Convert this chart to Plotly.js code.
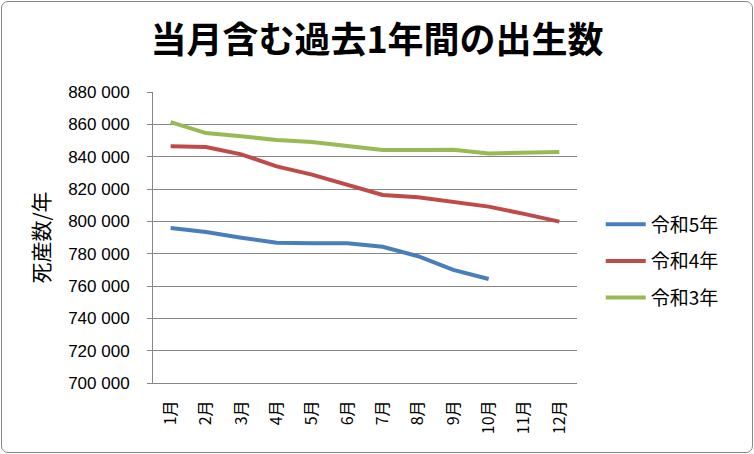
<!DOCTYPE html>
<html>
<head>
<meta charset="utf-8">
<script src="https://cdn.plot.ly/plotly-3.0.1.min.js"></script>
<style>
html,body{margin:0;padding:0;background:#fff;}
#wrap{position:relative;width:754px;height:454px;}
#chart{width:754px;height:454px;}
#frame{position:absolute;left:1px;top:1px;width:750px;height:450px;border:1px solid #878787;border-radius:7px;pointer-events:none;}
</style>
</head>
<body>
<div id="wrap"><div id="chart"></div><div id="frame"></div></div>
<script>
const months = ["1月","2月","3月","4月","5月","6月","7月","8月","9月","10月","11月","12月"];
const seriesNames = ["令和5年","令和4年","令和3年"];
const reiwa5 = [795900,793400,789900,786800,786400,786400,784300,778400,770000,764300];
const reiwa4 = [846400,846000,841400,834000,828900,822300,816300,814900,812000,809100,804600,799800];
const reiwa3 = [861400,854600,852600,850300,849100,846800,844100,844100,844300,842000,842700,842900];
const yTicks = [700000,720000,740000,760000,780000,800000,820000,840000,860000,880000];

const colors = ["#4A7EBB","#BE4B48","#98B954"];
const data = [reiwa5, reiwa4, reiwa3].map((vals, i) => ({
  type: "scatter",
  mode: "lines",
  x: months.slice(0, vals.length),
  y: vals,
  name: seriesNames[i],
  legendgroup: "g" + i,
  line: {color: colors[i], width: 4},
  hoverinfo: "skip"
}));

const layout = {
  width: 754, height: 454,
  margin: {l: 153, r: 177, t: 92, b: 71},
  paper_bgcolor: "#ffffff",
  plot_bgcolor: "#ffffff",
  separators: ". ",
  showlegend: true,
  title: {
    text: "当月含む過去1年間の出生数",
    font: {family: "Noto Sans CJK JP", size: 36, color: "#000", weight: "bold"},
    x: 0.5, xref: "container", xanchor: "center",
    y: 0.91, yref: "container", yanchor: "middle"
  },
  xaxis: {
    type: "category",
    categoryorder: "array",
    categoryarray: months,
    range: [-0.5, 11.5],
    showline: true, linecolor: "#868686", linewidth: 1,
    showgrid: false, zeroline: false,
    ticks: "", tickangle: -90,
    tickfont: {family: "Noto Sans CJK JP", size: 16, color: "#000"},
    ticklabelstandoff: 10,
    fixedrange: true
  },
  yaxis: {
    range: [700000, 880000],
    tickvals: yTicks,
    tickformat: ",d",
    showline: true, linecolor: "#868686", linewidth: 1,
    showgrid: true, gridcolor: "#868686", gridwidth: 1,
    zeroline: false,
    ticks: "outside", ticklen: 5, tickcolor: "#868686",
    tickfont: {family: "Liberation Sans", size: 17, color: "#000"},
    ticklabelstandoff: 14,
    title: {text: "死産数/年", font: {family: "Noto Sans CJK JP", size: 21, color: "#000"}, standoff: 12},
    fixedrange: true
  },
  legend: {
    x: 1.056, xanchor: "left",
    y: 0.418, yanchor: "middle",
    font: {family: "Noto Sans CJK JP", size: 19, color: "#000"},
    tracegroupgap: 9,
    itemwidth: 40,
    bgcolor: "rgba(0,0,0,0)"
  }
};

Plotly.newPlot("chart", data, layout, {displayModeBar: false, staticPlot: true});
</script>
</body>
</html>
